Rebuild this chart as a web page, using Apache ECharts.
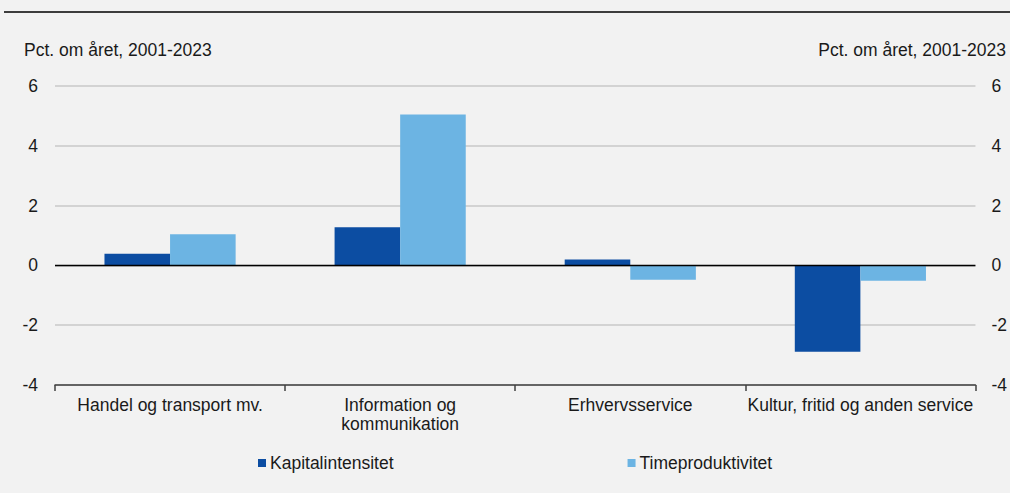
<!DOCTYPE html>
<html><head><meta charset="utf-8">
<script src="https://cdn.jsdelivr.net/npm/echarts@6/dist/echarts.min.js"></script>
<style>html,body{margin:0;padding:0;background:#f2f2f2}#c{width:1010px;height:493px}</style>
</head><body><div id="c"></div>
<script>
const categories = ['Handel og transport mv.', 'Information og\nkommunikation', 'Erhvervsservice', 'Kultur, fritid og anden service'];
const kapitalintensitet = [0.39, 1.28, 0.2, -2.89];
const timeproduktivitet = [1.04, 5.05, -0.48, -0.51];
const seriesNames = ['Kapitalintensitet', 'Timeproduktivitet'];
const axisTitle = 'Pct. om året, 2001-2023';

const font = 'Arial, "Liberation Sans", sans-serif';
const fs = 17.5;
const chart = echarts.init(document.getElementById('c'), null, {renderer: 'svg'});
const yAx = (pos) => ({
  type: 'value', position: pos, min: -4, max: 6, interval: 2,
  axisLine: {show: false}, axisTick: {show: false},
  axisLabel: {color: '#1a1a1a', fontSize: fs, fontFamily: font, margin: pos === 'left' ? 17 : 16,
    align: pos === 'left' ? 'right' : 'left'},
  splitLine: {show: pos === 'left', lineStyle: {color: '#c8c8c8', width: 1.5}}
});
chart.setOption({
  backgroundColor: '#f2f2f2',
  animation: false,
  grid: {left: 55, right: 33, top: 86, bottom: 108},
  graphic: [
    {type: 'line', shape: {x1: 4, y1: 12, x2: 1010, y2: 12}, style: {stroke: '#000', lineWidth: 1.3}},
    {type: 'text', left: 24, top: 41, style: {text: axisTitle, fontSize: fs, fontFamily: font, fill: '#1a1a1a'}},
    {type: 'text', right: 4, top: 41, style: {text: axisTitle, fontSize: fs, fontFamily: font, fill: '#1a1a1a'}}
  ],
  legend: {
    left: 253, top: 449, itemWidth: 8, itemHeight: 8, itemGap: 234, icon: 'rect',
    textStyle: {fontSize: fs, fontFamily: font, color: '#1a1a1a', padding: [0, 0, 0, -1]},
    data: seriesNames
  },
  xAxis: {
    type: 'category', data: categories,
    axisLine: {onZero: false, lineStyle: {color: '#404040', width: 1.5}},
    axisTick: {show: true, length: 6, lineStyle: {color: '#404040', width: 1.5}},
    axisLabel: {color: '#1a1a1a', fontSize: fs, fontFamily: font, margin: 10, lineHeight: 19, interval: 0}
  },
  yAxis: [yAx('left'), yAx('right')],
  series: [
    {name: seriesNames[0], type: 'bar', data: kapitalintensitet, itemStyle: {color: '#0c4da2'},
      barGap: '0%', barCategoryGap: '43%',
      markLine: {silent: true, symbol: 'none', label: {show: false},
        lineStyle: {color: '#000', width: 1.3, type: 'solid'}, data: [{yAxis: 0}]}},
    {name: seriesNames[1], type: 'bar', data: timeproduktivitet, itemStyle: {color: '#6cb4e3'},
      barGap: '0%', barCategoryGap: '43%'}
  ]
});
</script></body></html>
